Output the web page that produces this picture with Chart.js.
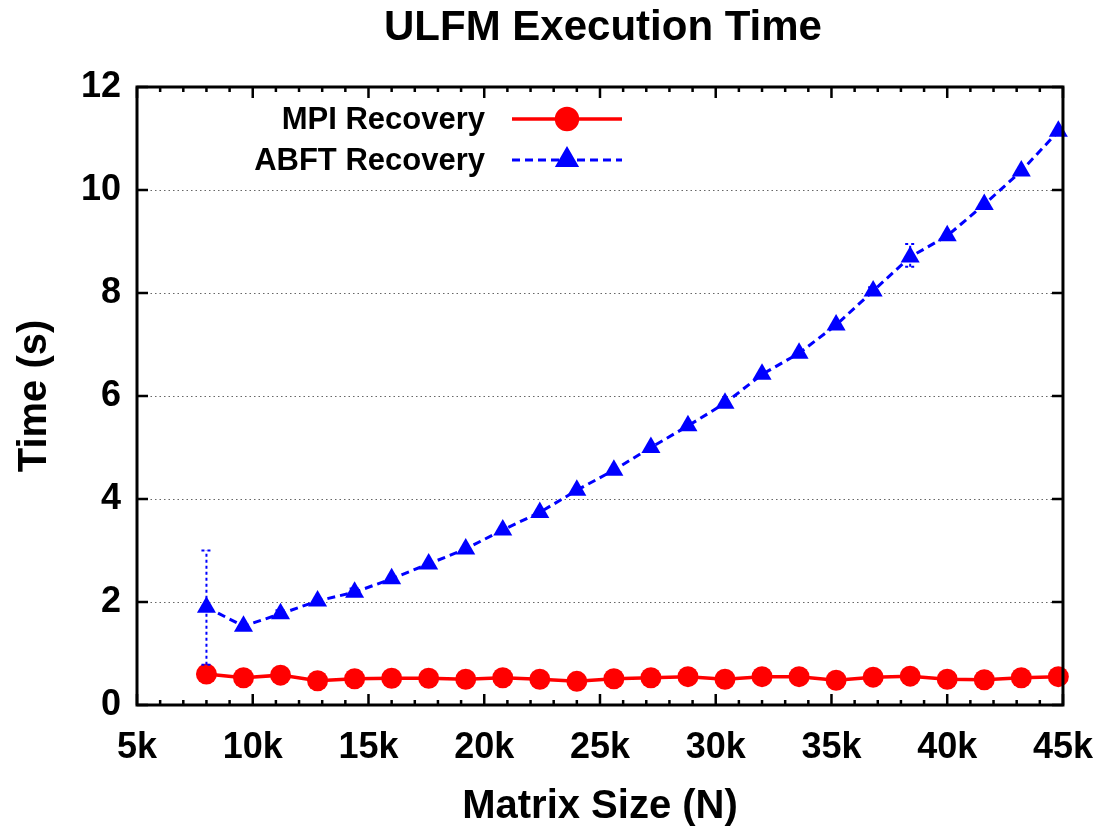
<!DOCTYPE html>
<html>
<head>
<meta charset="utf-8">
<script src="https://cdn.jsdelivr.net/npm/chart.js@4.4.1/dist/chart.umd.min.js"></script>
<style>
html,body{margin:0;padding:0;background:#fff;}
#wrap{width:1114px;height:832px;position:relative;}
</style>
</head>
<body>
<div id="wrap"><canvas id="c" width="1114" height="832"></canvas></div>
<script>
// ---- data ----
const matrixSizes = [8000, 9600, 11200, 12800, 14400, 16000, 17600, 19200, 20800, 22400, 24000, 25600,
                     27200, 28800, 30400, 32000, 33600, 35200, 36800, 38400, 40000, 41600, 43200, 44800];
const mpiRecovery = [0.60, 0.53, 0.58, 0.47, 0.51, 0.52, 0.52, 0.50, 0.53, 0.50, 0.46, 0.51,
                     0.53, 0.55, 0.50, 0.55, 0.55, 0.48, 0.54, 0.56, 0.50, 0.49, 0.53, 0.55];
const abftRecovery = [1.90, 1.53, 1.77, 2.02, 2.19, 2.45, 2.74, 3.03, 3.40, 3.74, 4.17, 4.56,
                      5.00, 5.42, 5.86, 6.42, 6.83, 7.38, 8.04, 8.70, 9.11, 9.72, 10.37, 11.14];
// error bars [index, low, high]
const abftErrors = [[0, 0.78, 3.00], [2, 1.70, 1.84], [4, 2.12, 2.26], [18, 7.97, 8.11], [19, 8.51, 8.95]];
const mpiErrors = [[9, 0.44, 0.56]];
const xTickValues = [5000, 10000, 15000, 20000, 25000, 30000, 35000, 40000, 45000];
const yTickValues = [0, 2, 4, 6, 8, 10, 12];
const titleText = 'ULFM Execution Time';
const xTitle = 'Matrix Size (N)';
const yTitle = 'Time (s)';

const FONT = "'Liberation Sans', Arial, Helvetica, sans-serif";

const framePlugin = {
  id: 'frame',
  afterDatasetsDraw(chart) {
    const {ctx, chartArea: a, scales: {x, y}} = chart;
    ctx.save();
    const drawErr = (errs, color) => {
      ctx.strokeStyle = color;
      ctx.lineWidth = 2;
      ctx.setLineDash([3, 3]);
      errs.forEach(([i, lo, hi]) => {
        const px = x.getPixelForValue(matrixSizes[i]);
        const p1 = y.getPixelForValue(lo), p2 = y.getPixelForValue(hi);
        ctx.beginPath(); ctx.moveTo(px, p1); ctx.lineTo(px, p2); ctx.stroke();
        ctx.beginPath();
        ctx.moveTo(px - 5, p1); ctx.lineTo(px + 5, p1);
        ctx.moveTo(px - 5, p2); ctx.lineTo(px + 5, p2);
        ctx.stroke();
      });
      ctx.setLineDash([]);
    };
    drawErr(abftErrors, '#0000ff');
    drawErr(mpiErrors, '#ff0000');
    ctx.restore();
  },
  beforeDatasetsDraw(chart) {
    const {ctx, chartArea: a, scales: {x, y}} = chart;
    ctx.save();
    ctx.strokeStyle = '#666';
    ctx.lineWidth = 1;
    ctx.setLineDash([1.5, 3]);
    yTickValues.forEach(v => {
      if (v === 0 || v === 12) return;
      const py = Math.round(y.getPixelForValue(v)) + 0.5;
      ctx.beginPath(); ctx.moveTo(a.left, py); ctx.lineTo(a.right, py); ctx.stroke();
    });
    ctx.setLineDash([]);
    ctx.restore();
  },
  afterDraw(chart) {
    const {ctx, chartArea: a, scales: {x, y}} = chart;
    ctx.save();
    ctx.strokeStyle = '#000';
    ctx.lineWidth = 2.5;
    ctx.beginPath();
    for (let v = 5000; v <= 45000; v += 1000) {
      const px = x.getPixelForValue(v);
      const len = (v % 5000 === 0) ? 11 : 5;
      ctx.moveTo(px, a.bottom); ctx.lineTo(px, a.bottom - len);
      ctx.moveTo(px, a.top); ctx.lineTo(px, a.top + len);
    }
    yTickValues.forEach(v => {
      const py = y.getPixelForValue(v);
      ctx.moveTo(a.left, py); ctx.lineTo(a.left + 11, py);
      ctx.moveTo(a.right, py); ctx.lineTo(a.right - 11, py);
    });
    ctx.stroke();
    ctx.lineWidth = 3;
    ctx.strokeRect(a.left, a.top, a.right - a.left, a.bottom - a.top);
    // title
    ctx.fillStyle = '#000';
    ctx.font = 'bold 42px ' + FONT;
    ctx.textAlign = 'center';
    ctx.textBaseline = 'middle';
    ctx.fillText(titleText, 603, 28);
    // legend
    ctx.font = 'bold 31px ' + FONT;
    ctx.textAlign = 'right';
    const rows = [119, 160];
    chart.data.datasets.forEach((ds, i) => {
      const yy = rows[i];
      ctx.fillStyle = '#000';
      ctx.fillText(ds.label, 485, yy + 1);
      ctx.strokeStyle = ds.borderColor;
      ctx.lineWidth = ds.borderWidth;
      ctx.setLineDash(ds.borderDash || []);
      ctx.beginPath(); ctx.moveTo(512, yy); ctx.lineTo(622, yy); ctx.stroke();
      ctx.setLineDash([]);
      Chart.helpers.drawPoint(ctx, {pointStyle: ds.pointStyle, radius: ds.pointRadius, borderWidth: 1}, 567, yy);
      ctx.fillStyle = ds.backgroundColor;
      ctx.strokeStyle = ds.borderColor;
      ctx.fill();
    });
    ctx.restore();
  }
};

new Chart(document.getElementById('c'), {
  type: 'line',
  data: {
    datasets: [
      {
        label: 'MPI Recovery',
        data: matrixSizes.map((s, i) => ({x: s, y: mpiRecovery[i]})),
        borderColor: '#ff0000',
        backgroundColor: '#ff0000',
        borderWidth: 3.5,
        pointStyle: 'circle',
        pointRadius: 10.5,
        pointBorderWidth: 0,
        tension: 0
      },
      {
        label: 'ABFT Recovery',
        data: matrixSizes.map((s, i) => ({x: s, y: abftRecovery[i]})),
        borderColor: '#0000ff',
        backgroundColor: '#0000ff',
        borderWidth: 3,
        borderDash: [8, 5],
        pointStyle: 'triangle',
        pointRadius: 11,
        pointBorderWidth: 0,
        tension: 0
      }
    ]
  },
  options: {
    responsive: false,
    animation: false,
    clip: false,
    layout: {padding: {left: 0, right: 51, top: 87, bottom: 0}},
    plugins: {legend: {display: false}, title: {display: false}, tooltip: {enabled: false}},
    scales: {
      x: {
        type: 'linear',
        min: 5000, max: 45000,
        afterFit(s) { s.height = 127; },
        afterBuildTicks(s) { s.ticks = xTickValues.map(v => ({value: v})); },
        grid: {display: false, drawTicks: false},
        border: {display: false},
        ticks: {
          color: '#000',
          padding: 21,
          maxRotation: 0,
          font: {family: FONT, size: 36, weight: 'bold'},
          callback: v => (v / 1000) + 'k'
        },
        title: {
          display: true, text: xTitle, color: '#000',
          font: {family: FONT, size: 40, weight: 'bold'},
          padding: {top: 0, bottom: 1}
        }
      },
      y: {
        min: 0, max: 12,
        afterFit(s) { s.width = 137; },
        afterBuildTicks(s) { s.ticks = yTickValues.map(v => ({value: v})); },
        grid: {display: false, drawTicks: false},
        border: {display: false},
        ticks: {
          color: '#000',
          padding: 16,
          font: {family: FONT, size: 36, weight: 'bold'}
        },
        title: {
          display: true, text: yTitle, color: '#000',
          font: {family: FONT, size: 40, weight: 'bold'},
          padding: {top: 11, bottom: 0}
        }
      }
    }
  },
  plugins: [framePlugin]
});
</script>
</body>
</html>
